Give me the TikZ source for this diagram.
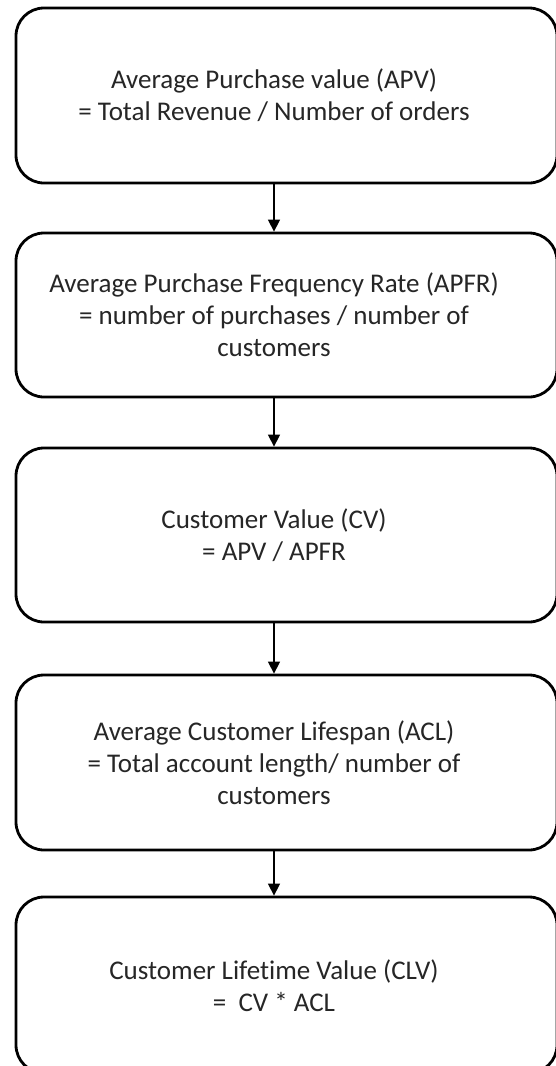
\documentclass[tikz,border=0pt]{standalone}
\usepackage{fontspec}
\setmainfont[Ligatures=NoCommon]{Carlito}
\usetikzlibrary{arrows.meta}
\begin{document}
\begin{tikzpicture}[x=1pt,y=-1pt,
  boxnode/.style={draw, line width=2.8pt, rounded corners=28pt, minimum width=541pt, inner sep=0pt},
  txt/.style={align=center, font=\fontsize{27}{32}\selectfont, inner sep=0pt, text=black!85},
  arr/.style={line width=1.4pt, -{Triangle[width=12pt,length=12pt]}}]
\useasboundingbox[fill=white] (0,0) rectangle (556,1066);
\begin{scope}
\clip (0,0) rectangle (556,1066);
\node[boxnode, minimum height=175pt] (b1) at (286.5,95.5) {};
\node[boxnode, minimum height=164pt] (b2) at (286.5,315) {};
\node[boxnode, minimum height=174pt] (b3) at (286.5,535) {};
\node[boxnode, minimum height=175pt] (b4) at (286.5,762.5) {};
\node[boxnode, minimum height=176pt] (b5) at (286.5,985) {};
\end{scope}
\node[txt] (t1) at (274,95.5) {Average Purchase value (APV)\\= Total Revenue / Number of orders};
\node[txt] (t2) at (274,315) {Average Purchase Frequency Rate (APFR)\\= number of purchases / number of\\customers};
\node[txt] (t3) at (274,535) {Customer Value (CV)\\= APV / APFR};
\node[txt] (t4) at (274,762.5) {Average Customer Lifespan (ACL)\\= Total account length/ number of\\customers};
\node[txt] (t5) at (274,986) {Customer Lifetime Value (CLV)\\=\ \ CV * ACL};
\draw[arr] (b1.south -| t1.center) -- (b2.north -| t1.center);
\draw[arr] (b2.south -| t1.center) -- (b3.north -| t1.center);
\draw[arr] (b3.south -| t1.center) -- (b4.north -| t1.center);
\draw[arr] (b4.south -| t1.center) -- (b5.north -| t1.center);
\end{tikzpicture}
\end{document}
